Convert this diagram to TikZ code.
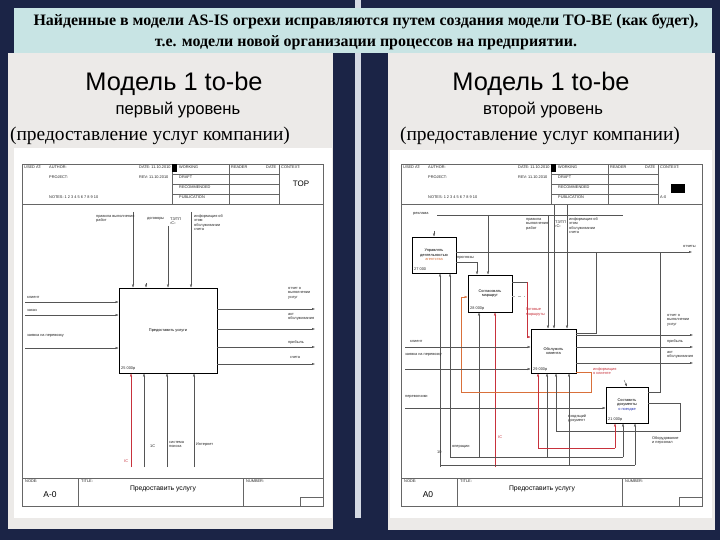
\documentclass[tikz,border=0pt]{standalone}
\usepackage{fontspec}
\setmainfont{Liberation Serif}
\setsansfont{Liberation Sans}
\usetikzlibrary{arrows.meta, positioning, calc, shadows}
\definecolor{navy}{HTML}{1B2446}
\definecolor{titlebg}{HTML}{C8E4E4}
\definecolor{panelbg}{HTML}{ECEAE8}
\definecolor{gapbg}{HTML}{D5DAE4}
\definecolor{linegr}{HTML}{555555}
\definecolor{redln}{HTML}{C8323C}
\definecolor{orln}{HTML}{D9703A}
\definecolor{blutx}{HTML}{2030B0}
\newcommand{\ttiny}{\fontsize{3.9}{4.6}\selectfont}
\tikzset{
  idbox/.style={draw=black, line width=0.7bp, fill=white, align=center, font=\sffamily\ttiny,
    inner sep=0pt, drop shadow={shadow xshift=1.2bp, shadow yshift=-1.2bp, fill=gray!70}},
  arr/.style={-{Latex[length=3bp,width=2.2bp]}, line width=0.35bp, draw=linegr},
  ln/.style={line width=0.35bp, draw=linegr},
  frm/.style={line width=0.45bp, draw=gray!80!black},
  lbl/.style={font=\sffamily\ttiny, text=gray!30!black, inner sep=0pt, align=left, anchor=north west},
  rlbl/.style={lbl, text=redln},
}
\begin{document}
\begin{tikzpicture}[x=1bp, y=-1bp, font=\sffamily\ttiny]
\useasboundingbox (0,0) rectangle (720,540);
\fill[navy] (0,0) rectangle (720,540);
\fill[panelbg] (8,53) rectangle (333,529);
\fill[panelbg] (388,53) rectangle (715,530);
\fill[gapbg] (355,0) rectangle (361,518);
\fill[titlebg] (14,8) rectangle (712,53);
\fill[white] (14,148) rectangle (332,518);
\fill[white] (390,150) rectangle (712,518);

\node[font=\rmfamily\bfseries\fontsize{16}{18}\selectfont] (title1) at (366,22)
  {Найденные в модели AS-IS огрехи исправляются путем создания модели TO-BE (как будет),};
\node[font=\rmfamily\bfseries\fontsize{16}{18}\selectfont] (title2) at (366,43)
  {т.е. модели новой организации процессов на предприятии.};

\node[font=\sffamily\fontsize{25.5}{27}\selectfont] (headL) at (174,84) {Модель 1 to-be};
\node[font=\sffamily\fontsize{16.7}{18}\selectfont] (levL) at (178,110) {первый уровень};
\node[font=\rmfamily\fontsize{19.5}{21}\selectfont] (subL) at (150,136) {(предоставление услуг компании)};
\node[font=\sffamily\fontsize{25.5}{27}\selectfont] (headR) at (541,84) {Модель 1 to-be};
\node[font=\sffamily\fontsize{16.7}{18}\selectfont] (levR) at (543,110) {второй уровень};
\node[font=\rmfamily\fontsize{19.5}{21}\selectfont] (subR) at (540,136) {(предоставление услуг компании)};

\foreach \ox/\nm in {0/l, 379/r} {
  \begin{scope}[xshift=\ox bp]
    \draw[frm] (22,164) rectangle (323,506);
    \draw[frm] (22,204) -- (323,204);
    \draw[frm] (172,164) -- (172,204);
    \draw[frm] (229,164) -- (229,204);
    \draw[frm] (279,164) -- (279,204);
    \draw[frm] (172,174) -- (279,174);
    \draw[frm] (172,184) -- (279,184);
    \draw[frm] (172,194) -- (279,194);
    \fill (172,164) rectangle (177,172);
    \node[lbl] (\nm usd) at (24,166) {USED AT:};
    \node[lbl] (\nm aut) at (49,166) {AUTHOR:};
    \node[lbl] (\nm prj) at (49,176) {PROJECT:};
    \node[lbl] (\nm nts) at (49,196) {NOTES: 1 2 3 4 5 6 7 8 9 10};
    \node[lbl] (\nm dat) at (139,166) {DATE: 11.10.2010};
    \node[lbl] (\nm rev) at (139,176) {REV: 11.10.2010};
    \node[lbl] (\nm wrk) at (179,166) {WORKING};
    \node[lbl] (\nm drf) at (179,176) {DRAFT};
    \node[lbl] (\nm rec) at (179,186) {RECOMMENDED};
    \node[lbl] (\nm pub) at (179,196) {PUBLICATION};
    \node[lbl] (\nm rdr) at (231,166) {READER};
    \node[lbl] (\nm dtb) at (266,166) {DATE};
    \node[lbl] (\nm ctx) at (281,166) {CONTEXT:};
    \draw[frm] (22,478) -- (323,478);
    \draw[frm] (78,478) -- (78,506);
    \draw[frm] (243,478) -- (243,506);
    \draw[frm] (300,497) rectangle (323,506);
    \node[lbl] (\nm nod) at (25,480) {NODE:};
    \node[lbl] (\nm ttl) at (81,480) {TITLE:};
    \node[lbl] (\nm num) at (246,480) {NUMBER:};
    \node[font=\sffamily\fontsize{6.8}{7}\selectfont] (\nm fti) at (163,489) {Предоставить услугу};
  \end{scope}
}
\node[font=\sffamily\fontsize{8}{9}\selectfont] (ltop) at (301,184) {TOP};
\node[font=\sffamily\fontsize{8.5}{9}\selectfont] (lnod) at (50,495) {A-0};
\fill (671,184) rectangle (685,193);
\node[lbl] (rcx) at (660,196) {A-0};
\node[font=\sffamily\fontsize{8.5}{9}\selectfont] (rnod) at (428,495) {A0};

\node[idbox, minimum width=98bp, minimum height=85bp] (a0) at (168,330.5) {Предоставить услуги};
\node[lbl] (a0c) at (121,367) {25 000р};
\draw[arr] (133,212) -- (133,212 |- a0.north);
\draw[arr] (146,283) -- (146,283 |- a0.north);
\draw[arr] (168,226) -- (168,226 |- a0.north);
\draw[arr] (191,212) -- (191,212 |- a0.north);
\node[lbl] (c1) at (96,215) {правила выполнения\\работ};
\node[lbl] (c2) at (147,217) {договоры};
\node[lbl] (c3) at (170,217) {ТЗ/ТП\\ ‹С›};
\node[lbl] (c4) at (194,214) {информация об\\ этом\\обслуживании\\счета};
\draw[arr] (25,302) -- (25,302 -| a0.west);
\draw[arr] (25,315) -- (25,315 -| a0.west);
\draw[arr] (25,348) -- (25,348 -| a0.west);
\node[lbl] (i1) at (27,296) {клиент};
\node[lbl] (i2) at (27,309) {заказ};
\node[lbl] (i3) at (27,334) {заявка на перевозку};
\draw[arr] (a0.east |- 0,309) -- (315,309);
\draw[arr] (a0.east |- 0,329) -- (315,329);
\draw[arr] (a0.east |- 0,347) -- (315,347);
\draw[arr] (a0.east |- 0,364) -- (315,364);
\node[lbl] (o1) at (288,287) {отчет о\\выполнении\\услуг};
\node[lbl] (o2) at (288,313) {акт\\обслуживания};
\node[lbl] (o3) at (288,340) {прибыль};
\node[lbl] (o4) at (290,356) {счета};
\draw[arr, draw=redln] (131,467) -- (131,467 |- a0.south);
\draw[arr] (144,467) -- (144,467 |- a0.south);
\draw[arr] (167,467) -- (167,467 |- a0.south);
\draw[arr] (194,467) -- (194,467 |- a0.south);
\node[rlbl] (m1) at (124,460) {IС};
\node[lbl] (m2) at (150,445) {1С};
\node[lbl] (m3) at (169,441) {система\\поиска};
\node[lbl] (m4) at (196,443) {Интернет};

\node[idbox, minimum width=44bp, minimum height=36bp] (a1) at (434,255)
  {Управлять\\деятельностью\\\textcolor{orln}{агентства}};
\node[lbl] (a1c) at (414,268) {27 000};
\node[idbox, minimum width=44bp, minimum height=37bp] (a2) at (490,293.5) {Согласовать\\маршрут};
\node[lbl] (a2c) at (470,307) {28 000р};
\node[idbox, minimum width=45bp, minimum height=44bp] (a3) at (553.5,351) {Обслужить\\клиента};
\node[lbl] (a3c) at (533,368) {29 000р};
\node[idbox, minimum width=42bp, minimum height=36bp] (a4) at (627,405)
  {Составить\\документы\\\textcolor{blutx}{о поездке}};
\node[lbl] (a4c) at (608,418) {21 000р};

\node[lbl] (r1) at (413,212) {реклама};
\draw[ln] (437,215) -- (623,215);
\draw[arr] (434,231) -- (a1.north);
\draw[arr] (488,215) -- (488,215 |- a2.north);
\node[lbl] (r2) at (526,218) {правила\\выполнения\\работ};
\node[lbl] (r3) at (555,220) {ТЗ/ТП\\ ‹С›};
\node[lbl] (r4) at (569,217) {информация об\\этом\\обслуживании\\счета};
\draw[arr] (548,215) -- (548,215 |- a3.north);
\draw[arr] (554,205) -- (554,205 |- a3.north);
\draw[arr] (567,205) -- (567,205 |- a3.north);
\draw[arr] (a1.east |- 0,252) -- (692,252);
\node[lbl] (r5) at (683,245) {отчеты};
\node[lbl] (r6) at (457,256) {прогнозы};
\draw[arr] (a1.east |- 0,262) -- (477,262) -- (477,262 |- a2.north);
\draw[ln] (a2.east |- 0,282) -- (527,282);
\draw[ln, dashed, draw=gray!60] (a2.east |- 0,296) -- (525,296);
\draw[arr, draw=redln] (527,282) -- (527,337) -- (527,337 -| a3.west);
\node[rlbl] (r7) at (526,308) {Готовые\\маршруты};
\draw[arr] (440,467) -- (440,467 |- a1.south);
\draw[arr] (450,457) -- (450,457 |- a1.south);
\draw[arr] (479,457) -- (479,457 |- a2.south);
\draw[arr, draw=redln] (495,467) -- (495,467 |- a2.south);
\draw[arr, draw=orln] (a3.east |- 0,372) -- (591,372) -- (591,392) -- (461,392)
  -- (461,297) -- (461,297 -| a2.west);
\node[rlbl] (r8) at (593,367) {информация\\о клиенте};
\node[lbl] (r9) at (410,340) {клиент};
\draw[arr] (405,347) -- (405,347 -| a3.west);
\node[lbl] (r10) at (405,353) {заявка на перевозку};
\draw[arr] (405,369) -- (405,369 -| a3.west);
\draw[arr] (a3.east |- 0,335) -- (693,335);
\draw[arr] (a3.east |- 0,347) -- (693,347);
\draw[arr] (a3.east |- 0,363) -- (693,363);
\node[lbl] (r11) at (667,314) {отчет о\\выполнении\\услуг};
\node[lbl] (r12) at (667,339) {прибыль};
\node[lbl] (r13) at (667,351) {акт\\обслуживания};
\draw[ln] (a3.east |- 0,333) -- (596,333) -- (596,252);
\draw[ln] (a4.east |- 0,392) -- (660,392) -- (660,252);
\node[lbl] (r14) at (405,395) {перевозчики};
\draw[arr] (405,408) -- (405,408 -| a4.west);
\draw[arr] (624,380) -- (a4.north);
\draw[arr] (a4.east |- 0,403) -- (680,403) -- (680,431) -- (556,431) -- (556,431 |- a3.south);
\node[lbl] (r15) at (652,436) {Оборудование\\и персонал};
\node[lbl] (r16) at (568,414) {входящий\\документ};
\draw[arr, draw=redln] (538,448) -- (538,448 |- a3.south);
\draw[arr] (547,457) -- (547,457 |- a3.south);
\draw[arr] (569,465) -- (569,465 |- a3.south);
\draw[ln, draw=redln] (538,448) -- (615,448);
\draw[arr, draw=redln] (615,448) -- (615,448 |- a4.south);
\draw[ln] (450,457) -- (623,457);
\draw[arr] (623,457) -- (623,457 |- a4.south);
\draw[ln] (440,465) -- (635,465);
\draw[arr] (635,465) -- (635,465 |- a4.south);
\node[rlbl] (r17) at (498,436) {IС};
\node[lbl] (r18) at (437,451) {10};
\node[lbl] (r19) at (452,445) {операции};
\end{tikzpicture}
\end{document}
